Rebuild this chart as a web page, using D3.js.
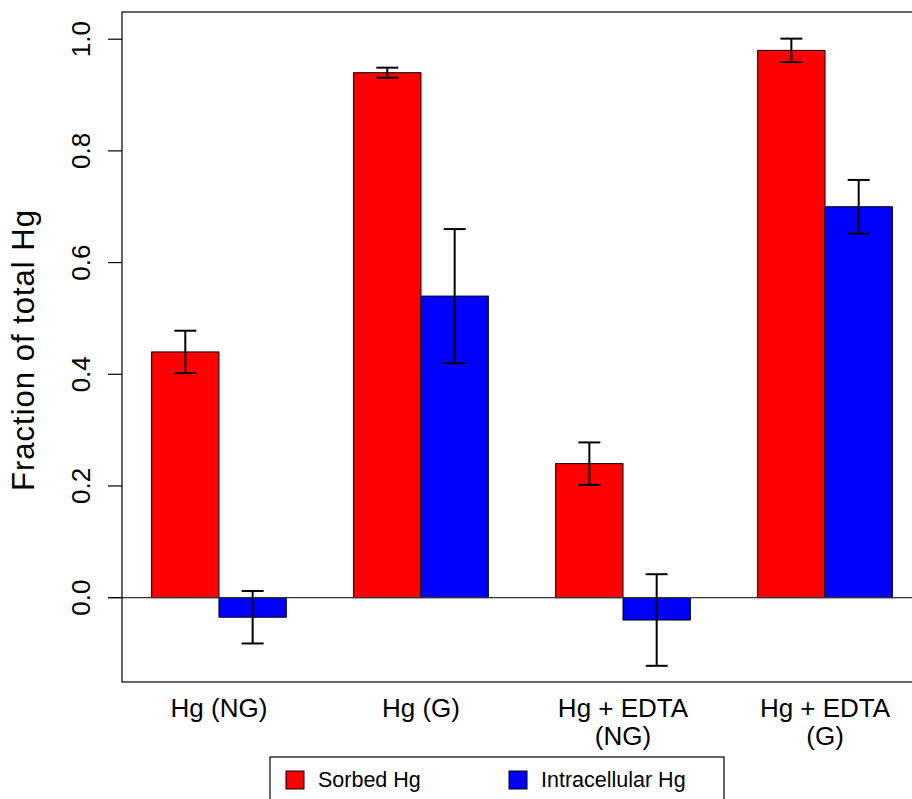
<!DOCTYPE html>
<html>
<head>
<meta charset="utf-8">
<script src="https://cdn.jsdelivr.net/npm/d3@7"></script>
<style>
  body { margin: 0; background: #fff; }
  svg text { font-family: "Liberation Sans", Arial, Helvetica, sans-serif; fill: #000; }
</style>
</head>
<body>
<div id="chart"></div>
<script>
const groups = [['Hg (NG)'], ['Hg (G)'], ['Hg + EDTA', '(NG)'], ['Hg + EDTA', '(G)']];
const seriesNames = ['Sorbed Hg', 'Intracellular Hg'];
const seriesColors = ['#ff0000', '#0000ff'];
const sorbed = [0.44, 0.94, 0.24, 0.98];
const sorbedErr = [0.038, 0.009, 0.038, 0.021];
const intra = [-0.035, 0.54, -0.04, 0.70];
const intraErr = [0.047, 0.12, 0.082, 0.048];
const yTicks = [0.0, 0.2, 0.4, 0.6, 0.8, 1.0];

const width = 912, height = 799;
const svg = d3.select('#chart').append('svg')
  .attr('width', width)
  .attr('height', height);

// plot region, R barplot style (bar units, space = c(0,1))
const plot = { left: 122, right: 922, top: 12, bottom: 682 };
const x = d3.scaleLinear().domain([0.56, 12.44]).range([plot.left, plot.right]);
const y = d3.scaleLinear().domain([-0.151, 1.0487]).range([plot.bottom, plot.top]);

// bars built from the series arrays
const bars = [];
groups.forEach((g, i) => {
  const start = 1 + i * 3;
  bars.push({ x0: start, value: sorbed[i], err: sorbedErr[i], color: seriesColors[0] });
  bars.push({ x0: start + 1, value: intra[i], err: intraErr[i], color: seriesColors[1] });
});

svg.append('g').selectAll('rect')
  .data(bars)
  .join('rect')
  .attr('x', d => x(d.x0))
  .attr('width', d => x(d.x0 + 1) - x(d.x0))
  .attr('y', d => y(Math.max(0, d.value)))
  .attr('height', d => Math.abs(y(d.value) - y(0)))
  .attr('fill', d => d.color)
  .attr('stroke', '#000')
  .attr('stroke-width', 1);

// zero line
svg.append('line')
  .attr('x1', 108).attr('x2', width)
  .attr('y1', y(0)).attr('y2', y(0))
  .attr('stroke', '#333')
  .attr('stroke-width', 1.2);

// error bars
const eb = svg.append('g').attr('stroke', '#000').attr('stroke-width', 2);
bars.forEach(d => {
  const cx = x(d.x0 + 0.5);
  const capW = 11;
  eb.append('line').attr('x1', cx).attr('x2', cx)
    .attr('y1', y(d.value + d.err)).attr('y2', y(d.value - d.err));
  [d.value + d.err, d.value - d.err].forEach(v => {
    eb.append('line').attr('x1', cx - capW).attr('x2', cx + capW)
      .attr('y1', y(v)).attr('y2', y(v));
  });
});

// plot box
svg.append('rect')
  .attr('x', plot.left).attr('y', plot.top)
  .attr('width', plot.right - plot.left).attr('height', plot.bottom - plot.top)
  .attr('fill', 'none')
  .attr('stroke', '#000')
  .attr('stroke-width', 1.2);

// y axis
const yAxis = svg.append('g');
yAxis.selectAll('line')
  .data(yTicks)
  .join('line')
  .attr('x1', 108).attr('x2', plot.left)
  .attr('y1', d => y(d)).attr('y2', d => y(d))
  .attr('stroke', '#000').attr('stroke-width', 1.2);
yAxis.selectAll('text')
  .data(yTicks)
  .join('text')
  .attr('transform', d => `translate(90,${y(d)}) rotate(-90)`)
  .attr('text-anchor', 'middle')
  .attr('font-size', 26)
  .text(d => d3.format('.1f')(d));

svg.append('text')
  .attr('transform', `translate(34,350) rotate(-90)`)
  .attr('text-anchor', 'middle')
  .attr('font-size', 31)
  .attr('letter-spacing', 1)
  .text('Fraction of total Hg');

// x category labels
groups.forEach((lines, i) => {
  const cx = x(1 + i * 3 + 1);
  lines.forEach((t, j) => {
    svg.append('text')
      .attr('x', cx)
      .attr('y', 717 + j * 28)
      .attr('text-anchor', 'middle')
      .attr('font-size', 26)
      .text(t);
  });
});

// legend
const legend = svg.append('g');
legend.append('rect')
  .attr('x', 270).attr('y', 757)
  .attr('width', 454).attr('height', 60)
  .attr('fill', '#fff')
  .attr('stroke', '#000')
  .attr('stroke-width', 1.2);
const legendX = [286, 509];
seriesNames.forEach((name, i) => {
  legend.append('rect')
    .attr('x', legendX[i]).attr('y', 771)
    .attr('width', 18).attr('height', 18)
    .attr('fill', seriesColors[i])
    .attr('stroke', '#000');
  legend.append('text')
    .attr('x', legendX[i] + 32)
    .attr('y', 787)
    .attr('font-size', 21.5)
    .text(name);
});
</script>
</body>
</html>
